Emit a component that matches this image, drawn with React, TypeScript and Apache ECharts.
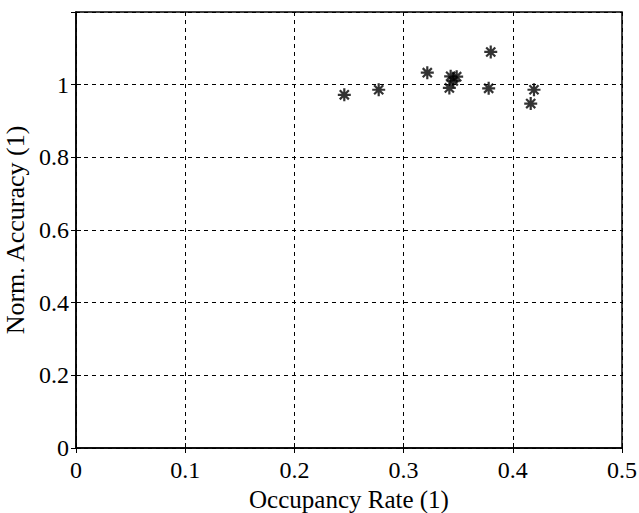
import React, { useEffect, useRef } from "react";
import * as echarts from "echarts";

const occupancyRate = [0.2457, 0.2772, 0.3217, 0.3431, 0.3486, 0.3455, 0.3419, 0.3798, 0.3779, 0.4194, 0.4164];
const normAccuracy = [0.972, 0.986, 1.033, 1.023, 1.022, 1.01, 0.991, 1.09, 0.99, 0.986, 0.948];
const xTicks = [0, 0.1, 0.2, 0.3, 0.4, 0.5];
const yTicks = [0, 0.2, 0.4, 0.6, 0.8, 1];

const STAR = "path://M0,-10L0,10M-10,0L10,0M-7,-7L7,7M-7,7L7,-7";
const FONT = "Liberation Serif";

export default function App() {
  const ref = useRef<HTMLDivElement>(null);
  useEffect(() => {
    if (!ref.current) return;
    const chart = echarts.init(ref.current, null, { renderer: "svg" });
    const points = occupancyRate.map((x, i) => [x, normAccuracy[i]]);
    const fmtX = (v: number) => (xTicks.some((t) => Math.abs(t - v) < 1e-9) ? String(+v.toFixed(1)) : "");
    const fmtY = (v: number) => (yTicks.some((t) => Math.abs(t - v) < 1e-9) ? String(+v.toFixed(1)) : "");
    const grid = {
      left: 76,
      right: 17,
      top: 12,
      bottom: 65,
      show: true,
      borderColor: "#000",
      borderWidth: 1.5,
      backgroundColor: "#fff",
      containLabel: false,
      outerBoundsMode: "none",
    };
    chart.setOption({
      animation: false,
      backgroundColor: "#fff",
      grid,
      xAxis: [
        {
          type: "value",
          min: 0,
          max: 0.5,
          interval: 0.1,
          position: "bottom",
          axisLine: { show: true, lineStyle: { color: "#000", width: 1.5 } },
          axisTick: { show: true, inside: true, length: 5, lineStyle: { color: "#000" } },
          axisLabel: { color: "#000", fontFamily: FONT, fontSize: 24, margin: 10, formatter: fmtX },
          splitLine: { show: true, lineStyle: { color: "#000", type: [4, 4], width: 1 } },
          name: "Occupancy Rate (1)",
          nameLocation: "middle",
          nameGap: 35,
          nameTextStyle: { color: "#000", fontFamily: FONT, fontSize: 25 },
        },
        {
          type: "value",
          min: 0,
          max: 0.5,
          interval: 0.1,
          position: "top",
          axisLine: { show: false },
          axisTick: { show: true, inside: true, length: 5, lineStyle: { color: "#000" } },
          axisLabel: { show: false },
          splitLine: { show: false },
        },
      ],
      yAxis: [
        {
          type: "value",
          min: 0,
          max: 1.2,
          interval: 0.2,
          position: "left",
          axisLine: { show: true, lineStyle: { color: "#000", width: 1.5 } },
          axisTick: { show: true, inside: true, length: 5, lineStyle: { color: "#000" } },
          axisLabel: { color: "#000", fontFamily: FONT, fontSize: 24, margin: 7, formatter: fmtY, showMaxLabel: false },
          splitLine: { show: true, lineStyle: { color: "#000", type: [4, 4], width: 1 } },
          name: "Norm. Accuracy (1)",
          nameLocation: "middle",
          nameGap: 41,
          nameTextStyle: { color: "#000", fontFamily: FONT, fontSize: 26 },
        },
        {
          type: "value",
          min: 0,
          max: 1.2,
          interval: 0.2,
          position: "right",
          axisLine: { show: false },
          axisTick: { show: true, inside: true, length: 5, lineStyle: { color: "#000" } },
          axisLabel: { show: false },
          splitLine: { show: false },
        },
      ],
      series: [
        {
          type: "scatter",
          data: points,
          symbol: STAR,
          symbolSize: 13,
          itemStyle: { color: "none", borderColor: "#000", borderWidth: 2.2 },
        },
      ],
    });
    return () => chart.dispose();
  }, []);
  return <div ref={ref} style={{ position: "fixed", left: 0, top: 0, width: 639, height: 513 }} />;
}
